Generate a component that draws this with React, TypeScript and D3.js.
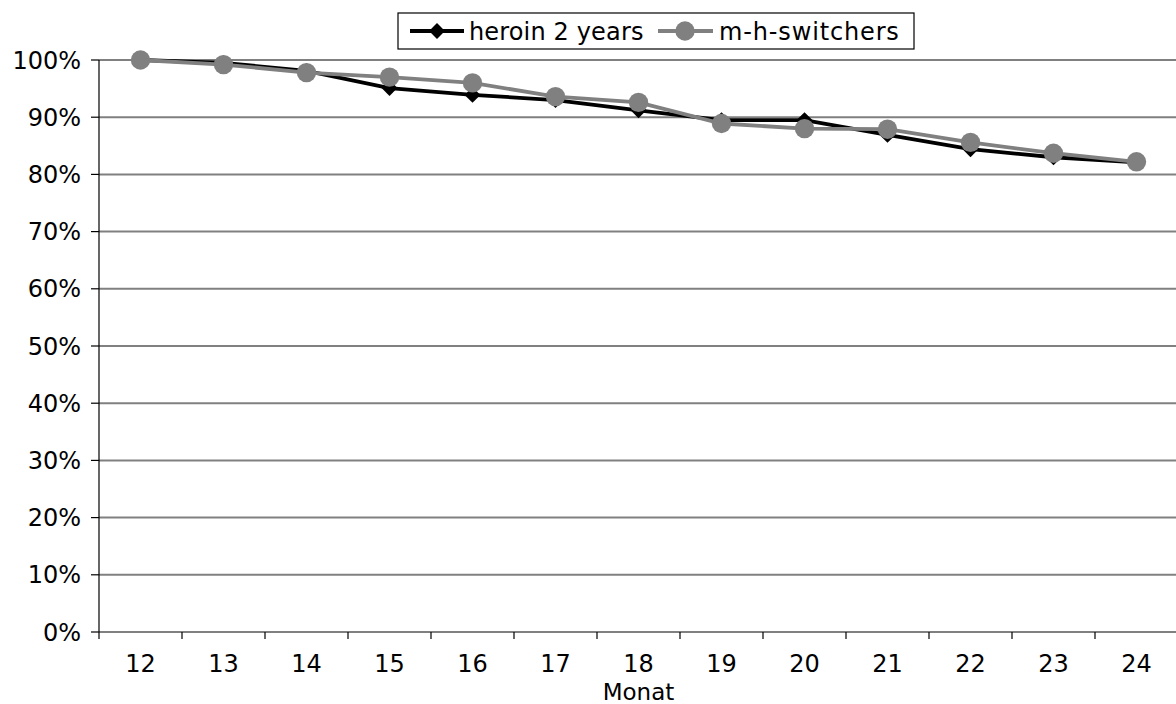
import React from "react";
import * as d3 from "d3";

const months: string[] = ["12", "13", "14", "15", "16", "17", "18", "19", "20", "21", "22", "23", "24"];
const heroin2Years: number[] = [100, 99.5, 98.1, 95.1, 93.9, 93.0, 91.2, 89.5, 89.5, 86.9, 84.4, 83.0, 82.1];
const mhSwitchers: number[] = [100, 99.2, 97.8, 97.0, 96.0, 93.6, 92.6, 88.9, 88.0, 87.9, 85.6, 83.7, 82.2];
const yTicks: number[] = [0, 10, 20, 30, 40, 50, 60, 70, 80, 90, 100];

const W = 1176;
const H = 704;
const left = 99;
const right = 1178;
const top = 60;
const bottom = 632;
const FONT = "'DejaVu Sans', Verdana, sans-serif";
const FS = 24;
const GREY = "#808080";

export default function App() {
  const x = d3.scaleBand<string>().domain(months).range([left, right]).padding(0);
  const y = d3.scaleLinear().domain([0, 100]).range([bottom, top]);
  const cx = (m: string) => (x(m) as number) + x.bandwidth() / 2;

  const line = d3
    .line<number>()
    .x((_, i) => cx(months[i]))
    .y((v) => y(v));

  const diamond = d3.symbol().type(d3.symbolDiamond2).size(160)();

  const legendY = 31;

  return (
    <svg
      width={W}
      height={H}
      style={{ position: "absolute", left: 0, top: 0, background: "#fff" }}
      fontFamily={FONT}
    >
      {/* horizontal gridlines */}
      {yTicks.map((t) => (
        <line key={"g" + t} x1={left} x2={right} y1={y(t)} y2={y(t)} stroke={GREY} strokeWidth={2} />
      ))}
      {/* y axis */}
      <line x1={left} x2={left} y1={top} y2={bottom + 7} stroke="#000" strokeWidth={1.2} />
      {yTicks.map((t) => (
        <g key={"yt" + t}>
          <line x1={left - 8} x2={left} y1={y(t)} y2={y(t)} stroke="#000" strokeWidth={1.2} />
          <text x={81} y={y(t)} dy="0.36em" textAnchor="end" fontSize={FS} fill="#000">
            {t + "%"}
          </text>
        </g>
      ))}
      {/* x axis ticks and labels */}
      {months.map((m, i) => (
        <g key={"xt" + m}>
          {i > 0 && (
            <line x1={x(m)} x2={x(m)} y1={bottom} y2={bottom + 7} stroke="#000" strokeWidth={1.2} />
          )}
          <text x={cx(m)} y={672} textAnchor="middle" fontSize={FS} fill="#000">
            {m}
          </text>
        </g>
      ))}
      <text x={(left + right) / 2} y={700} textAnchor="middle" fontSize={23} fill="#000">
        Monat
      </text>

      {/* series */}
      <path d={line(heroin2Years) || ""} fill="none" stroke="#000" strokeWidth={3.8} />
      {heroin2Years.map((v, i) => (
        <path key={"d" + i} d={diamond || ""} transform={`translate(${cx(months[i])},${y(v)})`} fill="#000" />
      ))}
      <path d={line(mhSwitchers) || ""} fill="none" stroke={GREY} strokeWidth={3.8} />
      {mhSwitchers.map((v, i) => (
        <circle key={"c" + i} cx={cx(months[i])} cy={y(v)} r={9.7} fill={GREY} />
      ))}

      {/* legend */}
      <rect x={398} y={13} width={516} height={36} fill="#fff" stroke="#000" strokeWidth={1.2} />
      <line x1={410} x2={464} y1={legendY} y2={legendY} stroke="#000" strokeWidth={3.8} />
      <path d={diamond || ""} transform={`translate(437,${legendY})`} fill="#000" />
      <text x={469} y={legendY} dy="0.36em" fontSize={FS} letterSpacing={0.15} fill="#000">
        heroin 2 years
      </text>
      <line x1={658} x2={713} y1={legendY} y2={legendY} stroke={GREY} strokeWidth={3.8} />
      <circle cx={685} cy={legendY} r={9.7} fill={GREY} />
      <text x={719} y={legendY} dy="0.36em" fontSize={FS} letterSpacing={0.85} fill="#000">
        m-h-switchers
      </text>
    </svg>
  );
}
